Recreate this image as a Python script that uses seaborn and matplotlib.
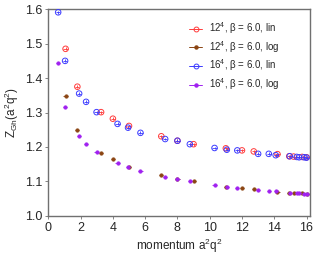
import numpy as np
import pandas as pd
import matplotlib
matplotlib.use("Agg")
import matplotlib.pyplot as plt
from matplotlib.lines import Line2D
import seaborn as sns

# 12^4 lattice momenta
q12 = [1.07, 1.80, 3.27, 4.00, 5.00, 7.00, 8.00, 9.00, 11.00, 12.00,
       12.73, 14.20, 14.93, 15.20, 15.73, 16.00]
z12_lin = [1.485, 1.375, 1.301, 1.282, 1.261, 1.231, 1.218, 1.208, 1.196, 1.190,
           1.187, 1.179, 1.173, 1.172, 1.171, 1.170]
z12_log = [1.347, 1.248, 1.181, 1.165, 1.142, 1.118, 1.108, 1.100, 1.085, 1.081,
           1.078, 1.070, 1.066, 1.066, 1.065, 1.064]

# 16^4 lattice momenta
q16 = [0.61, 1.04, 1.91, 2.34, 2.99, 4.29, 4.94, 5.71, 7.24, 8.00, 8.77,
       10.30, 11.06, 11.71, 13.00, 13.66, 14.09, 14.96, 15.39, 15.54, 15.85, 16.00]
z16_lin = [1.591, 1.450, 1.355, 1.331, 1.301, 1.267, 1.256, 1.241, 1.223, 1.218, 1.208,
           1.197, 1.192, 1.190, 1.180, 1.180, 1.176, 1.173, 1.171, 1.170, 1.170, 1.169]
z16_log = [1.443, 1.317, 1.233, 1.210, 1.184, 1.152, 1.142, 1.130, 1.112, 1.108, 1.100,
           1.089, 1.083, 1.081, 1.075, 1.072, 1.072, 1.066, 1.065, 1.065, 1.064, 1.064]

labels = ["12$^4$, β = 6.0, lin", "12$^4$, β = 6.0, log",
          "16$^4$, β = 6.0, lin", "16$^4$, β = 6.0, log"]
colors = ["#ff3b3b", "#8b4513", "#3b3bff", "#a020f0"]

sns.set_theme(style="ticks")
plt.rcParams['font.family'] = ['Liberation Sans', 'DejaVu Sans']
plt.rcParams['mathtext.fontset'] = 'custom'
plt.rcParams['mathtext.rm'] = 'Liberation Sans'
plt.rcParams['mathtext.it'] = 'Liberation Sans'

fig = plt.figure(figsize=(3.2, 2.56), dpi=100)
ax = fig.add_axes([0.151, 0.157, 0.817, 0.807])

series = [(q12, z12_lin, True), (q12, z12_log, False),
          (q16, z16_lin, True), (q16, z16_log, False)]

handles = []
for (q, z, hollow), lab, col in zip(series, labels, colors):
    df = pd.DataFrame({"q": q, "z": z})
    if hollow:
        sns.scatterplot(data=df, x="q", y="z", ax=ax, marker="o", s=16,
                        facecolor="none", edgecolor=col, linewidth=0.7, zorder=3)
        ax.errorbar(df["q"], df["z"], xerr=0.13, yerr=0.004, fmt="none",
                    ecolor=col, elinewidth=0.6, capsize=0, zorder=3)
        h = Line2D([], [], color=col, lw=0.7, marker="o", ms=3.5,
                   mfc="none", mec=col, mew=0.7)
    else:
        sns.scatterplot(data=df, x="q", y="z", ax=ax, marker="o", s=7,
                        color=col, edgecolor=col, linewidth=0.3, zorder=4)
        ax.errorbar(df["q"], df["z"], xerr=0.13, yerr=0.002, fmt="none",
                    ecolor=col, elinewidth=0.6, capsize=0, zorder=4)
        h = Line2D([], [], color=col, lw=0.7, marker="o", ms=2.2,
                   mfc=col, mec=col)
    handles.append(h)

ax.set_xlim(0, 16.2)
ax.set_ylim(1.0, 1.6)
ax.set_xticks(np.arange(0, 17, 2))
ax.set_yticks(np.arange(1.0, 1.61, 0.1))
ax.set_xlabel("momentum a$^2$q$^2$", fontsize=8.5, labelpad=2)
ax.set_ylabel("Z$_{Gh}$(a$^2$q$^2$)", fontsize=8.5, labelpad=3)
ax.tick_params(labelsize=9, length=2.5, width=0.6, color="#707070", pad=2)
for sp in ax.spines.values():
    sp.set_color("#707070")
    sp.set_linewidth(1.0)

ax.legend(handles, labels, loc="upper right", bbox_to_anchor=(0.91, 0.98),
          frameon=False, fontsize=7, handlelength=1.3, handletextpad=0.7,
          labelspacing=0.3, borderpad=0.2)

fig.savefig("out.png", dpi=100)
